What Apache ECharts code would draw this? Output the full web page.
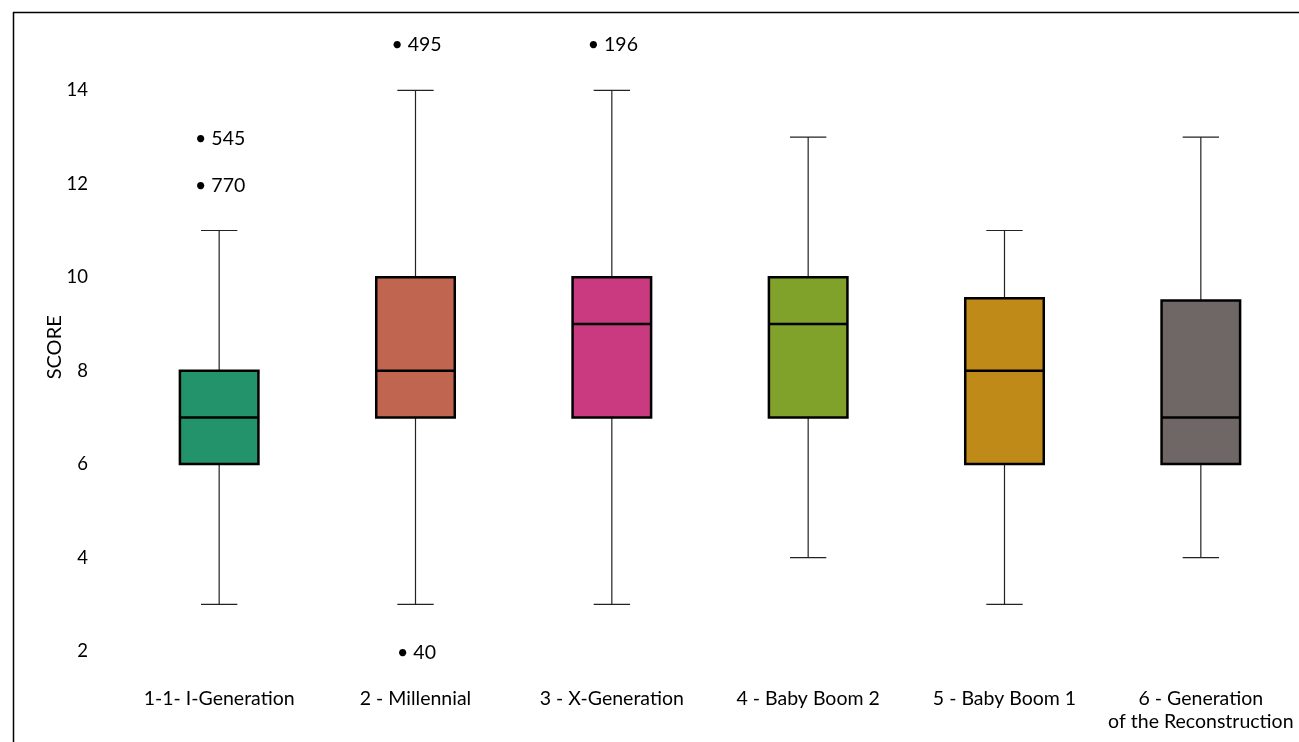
<!DOCTYPE html>
<html><head><meta charset="utf-8">
<script src="https://cdn.jsdelivr.net/npm/echarts@6/dist/echarts.min.js"></script>
<style>html,body{margin:0;padding:0;background:#fff}#c{width:1299px;height:742px}</style>
</head><body><div id="c"></div>
<script>
const categories = ['1-1- I-Generation', '2 - Millennial', '3 - X-Generation', '4 - Baby Boom 2', '5 - Baby Boom 1', '6 - Generation\nof the Reconstruction'];
const mins    = [3, 3, 3, 4, 3, 4];
const q1s     = [6, 7, 7, 7, 6, 6];
const medians = [7, 8, 9, 9, 8, 7];
const q3s     = [8, 10, 10, 10, 9.55, 9.5];
const maxs    = [11, 14, 14, 13, 11, 13];
const colors  = ['#23936B', '#C0654F', '#CA3A80', '#80A22A', '#BF8A17', '#6E6766'];
// outliers: [category index, value, case label]
const outliers = [[0, 13, '545'], [0, 12, '770'], [1, 15, '495'], [1, 2, '40'], [2, 15, '196']];

const FONT = 'Lato';
const chart = echarts.init(document.getElementById('c'), null, {renderer: 'canvas'});
const boxData = categories.map((c, i) => [i, mins[i], q1s[i], medians[i], q3s[i], maxs[i]]);

chart.setOption({
  animation: false,
  backgroundColor: '#fff',
  textStyle: {fontFamily: FONT},
  grid: {left: 121, right: 0, top: 43.6, bottom: 742 - 651},
  xAxis: {
    type: 'category', data: categories,
    axisLine: {show: false}, axisTick: {show: false},
    axisLabel: {color: '#000', fontSize: 19.5, margin: 36, lineHeight: 23, fontFamily: FONT, interval: 0}
  },
  yAxis: {
    type: 'value', min: 2, max: 15, interval: 1,
    name: 'SCORE', nameLocation: 'middle', nameGap: 56, nameRotate: 90, nameMoveOverlap: false,
    nameTextStyle: {color: '#000', fontSize: 20, fontFamily: FONT},
    axisLine: {show: false}, axisTick: {show: false}, splitLine: {show: false},
    axisLabel: {color: '#000', fontSize: 18.5, margin: 33, fontFamily: FONT,
      formatter: v => (v % 2 === 0 && v <= 14) ? String(v) : ''}
  },
  graphic: [
    {type: 'line', shape: {x1: 13, y1: 12.5, x2: 1299, y2: 12.5}, style: {stroke: '#000', lineWidth: 1.5}},
    {type: 'line', shape: {x1: 13.5, y1: 12, x2: 13.5, y2: 742}, style: {stroke: '#000', lineWidth: 1.5}}
  ],
  series: [
    {
      type: 'custom', data: boxData, clip: false,
      encode: {x: 0, y: [1, 2, 3, 4, 5]},
      renderItem: function (params, api) {
        const i = api.value(0);
        const band = api.size([1, 0])[0];
        const bw = band * 0.4, cw = band * 0.185;
        const pMin = api.coord([i, api.value(1)]);
        const pQ1 = api.coord([i, api.value(2)]);
        const pMed = api.coord([i, api.value(3)]);
        const pQ3 = api.coord([i, api.value(4)]);
        const pMax = api.coord([i, api.value(5)]);
        const x = pMin[0];
        const ls = {stroke: '#222', lineWidth: 1.2};
        return {type: 'group', children: [
          {type: 'line', shape: {x1: x, y1: pMax[1], x2: x, y2: pQ3[1]}, style: ls},
          {type: 'line', shape: {x1: x, y1: pQ1[1], x2: x, y2: pMin[1]}, style: ls},
          {type: 'line', shape: {x1: x - cw / 2, y1: pMax[1], x2: x + cw / 2, y2: pMax[1]}, style: ls},
          {type: 'line', shape: {x1: x - cw / 2, y1: pMin[1], x2: x + cw / 2, y2: pMin[1]}, style: ls},
          {type: 'rect', shape: {x: x - bw / 2, y: pQ3[1], width: bw, height: pQ1[1] - pQ3[1]},
            style: {fill: colors[params.dataIndex], stroke: '#000', lineWidth: 2.5}},
          {type: 'line', shape: {x1: x - bw / 2, y1: pMed[1], x2: x + bw / 2, y2: pMed[1]},
            style: {stroke: '#000', lineWidth: 2.5}}
        ]};
      }
    },
    {
      type: 'custom', data: outliers, clip: false,
      encode: {x: 0, y: 1},
      renderItem: function (params, api) {
        const p = api.coord([api.value(0), api.value(1)]);
        return {type: 'text', x: p[0] + 1, y: p[1] + 1.5,
          style: {text: '\u2022 ' + outliers[params.dataIndex][2], fill: '#000', fontSize: 19.5,
            fontFamily: FONT, align: 'center', verticalAlign: 'middle'}};
      }
    }
  ]
});
</script></body></html>
